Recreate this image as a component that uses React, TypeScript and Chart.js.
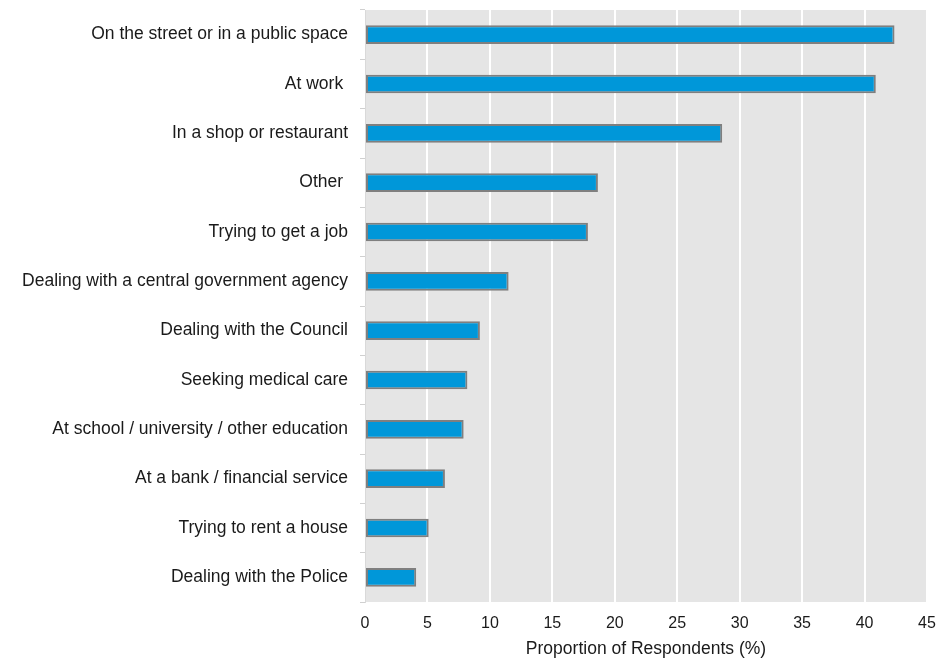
import React, { useEffect, useRef } from "react";
import { Chart, registerables } from "chart.js";

Chart.register(...registerables);

const categories = [
  "On the street or in a public space",
  "At work ",
  "In a shop or restaurant",
  "Other ",
  "Trying to get a job",
  "Dealing with a central government agency",
  "Dealing with the Council",
  "Seeking medical care",
  "At school / university / other education",
  "At a bank / financial service",
  "Trying to rent a house",
  "Dealing with the Police",
];

const values = [42.4, 40.9, 28.6, 18.65, 17.85, 11.5, 9.2, 8.2, 7.9, 6.4, 5.1, 4.1];

const xTicks = [0, 5, 10, 15, 20, 25, 30, 35, 40, 45];

const xTitle = "Proportion of Respondents (%)";

const bgPlugin = {
  id: "plotBg",
  beforeDraw(chart: any) {
    const { ctx, chartArea } = chart;
    ctx.save();
    ctx.fillStyle = "#e5e5e5";
    ctx.fillRect(chartArea.left, chartArea.top, chartArea.right - chartArea.left, chartArea.bottom - chartArea.top);
    ctx.restore();
  },
};

export default function App() {
  const ref = useRef<HTMLCanvasElement>(null);

  useEffect(() => {
    document.body.style.margin = "0";
    const font = "'Liberation Sans', Arial, sans-serif";
    const chart = new Chart(ref.current!, {
      type: "bar",
      data: {
        labels: categories,
        datasets: [
          {
            data: values,
            backgroundColor: "#0097d9",
            borderColor: "#7f7f7f",
            borderWidth: 2,
            borderSkipped: false,
            barPercentage: 0.38,
            categoryPercentage: 1,
          },
        ],
      },
      options: {
        indexAxis: "y",
        animation: false,
        responsive: false,
        maintainAspectRatio: false,
        layout: { padding: { top: 10, right: 15, left: 0, bottom: 0 } },
        plugins: { legend: { display: false }, tooltip: { enabled: false } },
        scales: {
          x: {
            min: 0,
            max: 45,
            afterBuildTicks(scale: any) {
              scale.ticks = xTicks.map((v) => ({ value: v }));
            },
            grid: {
              color: "#ffffff",
              lineWidth: 2,
              drawTicks: false,
              tickLength: 0,
            },
            border: { display: false },
            ticks: {
              color: "#1a1a1a",
              font: { family: font, size: 16 },
              padding: 12,
              maxRotation: 0,
            },
            title: {
              display: true,
              text: xTitle,
              color: "#1a1a1a",
              font: { family: font, size: 17.5 },
              padding: { top: 2, bottom: 0 },
            },
            afterFit(scale: any) {
              scale.height = 58;
              scale.paddingLeft = 0;
              scale.paddingRight = 0;
            },
          },
          y: {
            grid: {
              display: true,
              drawOnChartArea: false,
              drawTicks: true,
              tickLength: 5,
              color: "#d0d0d0",
              offset: true,
            },
            border: { display: true, color: "#d9d9d9", width: 1 },
            ticks: {
              color: "#1a1a1a",
              font: { family: font, size: 17.5 },
              padding: 12,
              autoSkip: false,
            },
            afterFit(scale: any) {
              scale.width = 365;
              scale.paddingTop = 0;
              scale.paddingBottom = 0;
            },
          },
        },
      },
      plugins: [bgPlugin],
    } as any);
    return () => chart.destroy();
  }, []);

  return (
    <div style={{ width: 942, height: 660 }}>
      <canvas ref={ref} width={942} height={660} style={{ display: "block" }} />
    </div>
  );
}
